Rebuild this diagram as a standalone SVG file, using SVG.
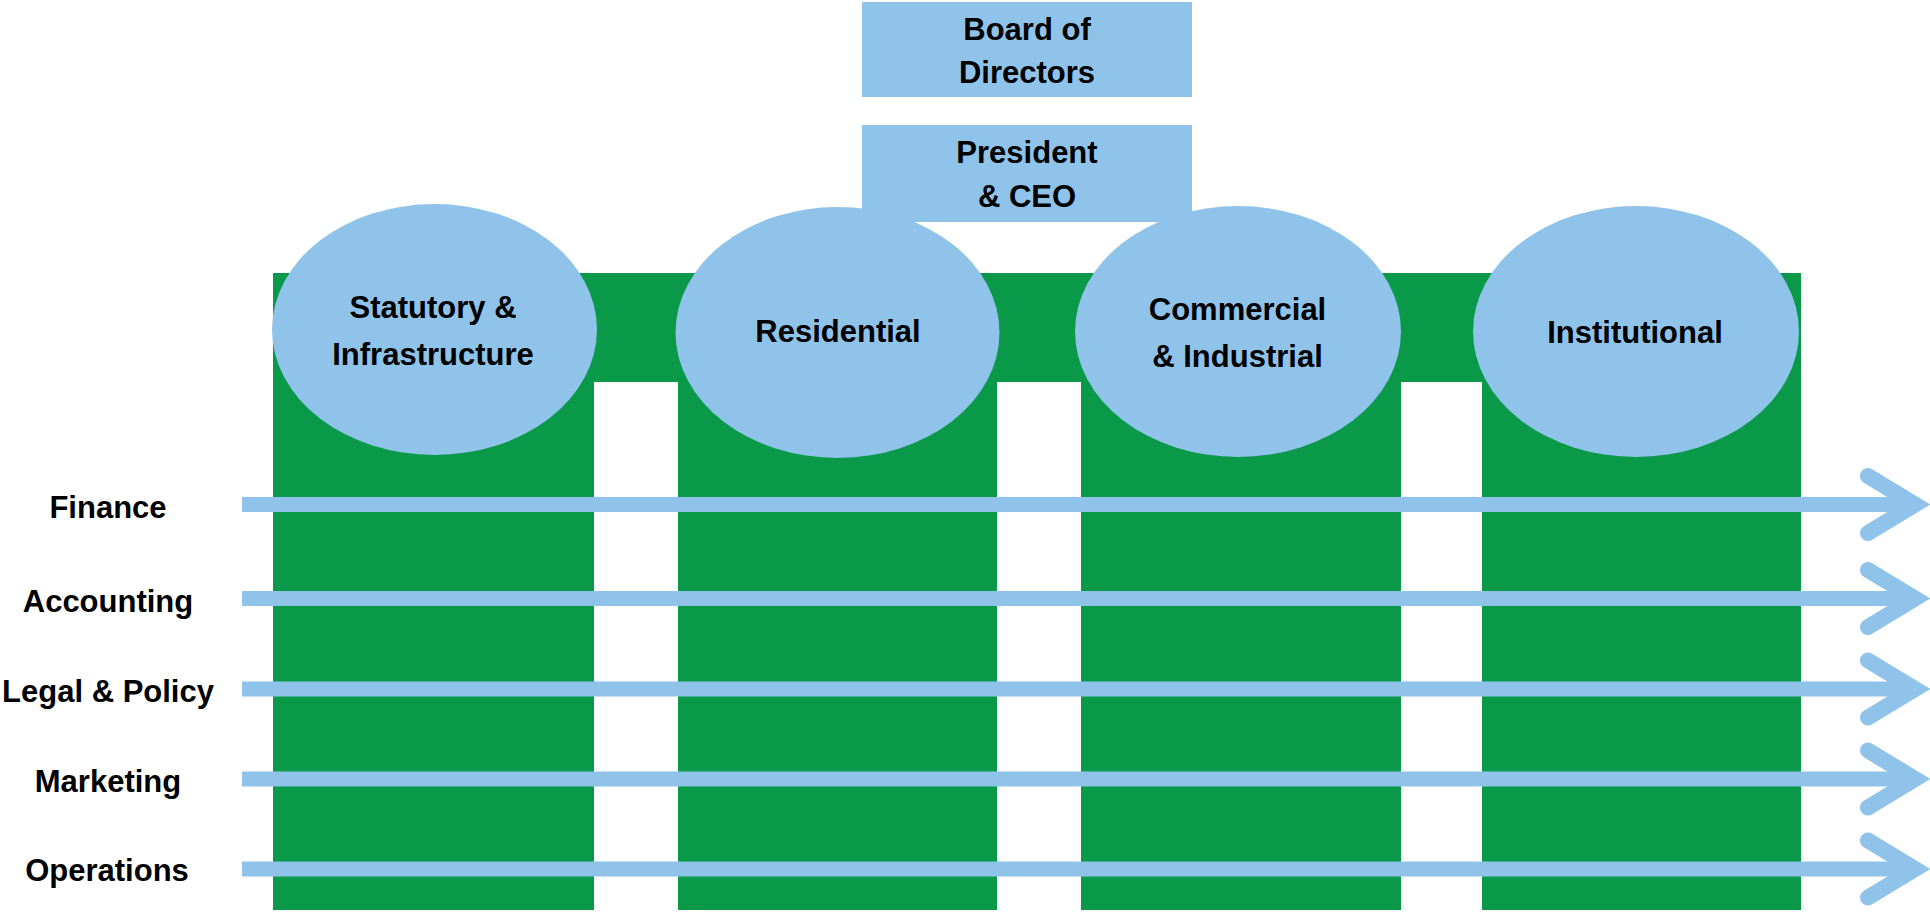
<svg xmlns="http://www.w3.org/2000/svg" width="1930" height="917" viewBox="0 0 1930 917">
<style>
.g{fill:#0A9849}
.b{fill:#8FC3EA}
.t{font-family:"Liberation Sans",Arial,sans-serif;font-weight:bold;font-size:31px;fill:#000;text-anchor:middle}
.ln{stroke:#8FC3EA;stroke-width:15;fill:none}
.hd{stroke:#8FC3EA;stroke-width:16;fill:none;stroke-linecap:round;stroke-linejoin:miter;stroke-miterlimit:10}
</style>
<rect width="1930" height="917" fill="#fff"/>
<g id="frame">
<rect class="g" x="273" y="273" width="1528" height="109"/>
<rect class="g" x="273" y="273" width="321" height="637"/>
<rect class="g" x="678" y="273" width="319" height="637"/>
<rect class="g" x="1081" y="273" width="320" height="637"/>
<rect class="g" x="1482" y="273" width="319" height="637"/>
</g>
<g id="board">
<rect class="b" x="862" y="2" width="330" height="95"/>
<text class="t" x="1027" y="40">Board of</text>
<text class="t" x="1027" y="83">Directors</text>
</g>
<g id="president">
<rect class="b" x="862" y="125" width="330" height="97"/>
<text class="t" x="1027" y="163">President</text>
<text class="t" x="1027" y="207">&amp; CEO</text>
</g>
<g id="statutory">
<ellipse class="b" cx="434.5" cy="329.5" rx="162.5" ry="125.5"/>
<text class="t" x="433" y="318">Statutory &amp;</text>
<text class="t" x="433" y="365">Infrastructure</text>
</g>
<g id="residential">
<ellipse class="b" cx="837.5" cy="332.5" rx="162" ry="125.5"/>
<text class="t" x="838" y="342">Residential</text>
</g>
<g id="commercial">
<ellipse class="b" cx="1238" cy="331.5" rx="163" ry="125.5"/>
<text class="t" x="1237.5" y="320">Commercial</text>
<text class="t" x="1237.5" y="367">&amp; Industrial</text>
</g>
<g id="institutional">
<ellipse class="b" cx="1636" cy="331.5" rx="163" ry="125.5"/>
<text class="t" x="1635" y="343">Institutional</text>
</g>
<g id="labels">
<text class="t" x="108" y="518">Finance</text>
<text class="t" x="108" y="612">Accounting</text>
<text class="t" x="108" y="702">Legal &amp; Policy</text>
<text class="t" x="108" y="792">Marketing</text>
<text class="t" x="107" y="881">Operations</text>
</g>
<g id="connectors">
<line class="ln" x1="242" y1="504.5" x2="1912" y2="504.5"/>
<polyline class="hd" points="1868,476 1915,504.5 1868,533"/>
<line class="ln" x1="242" y1="598.5" x2="1912" y2="598.5"/>
<polyline class="hd" points="1868,570 1915,598.5 1868,627"/>
<line class="ln" x1="242" y1="689" x2="1912" y2="689"/>
<polyline class="hd" points="1868,660.5 1915,689 1868,717.5"/>
<line class="ln" x1="242" y1="779" x2="1912" y2="779"/>
<polyline class="hd" points="1868,750.5 1915,779 1868,807.5"/>
<line class="ln" x1="242" y1="869" x2="1912" y2="869"/>
<polyline class="hd" points="1868,840.5 1915,869 1868,897.5"/>
</g>
</svg>
